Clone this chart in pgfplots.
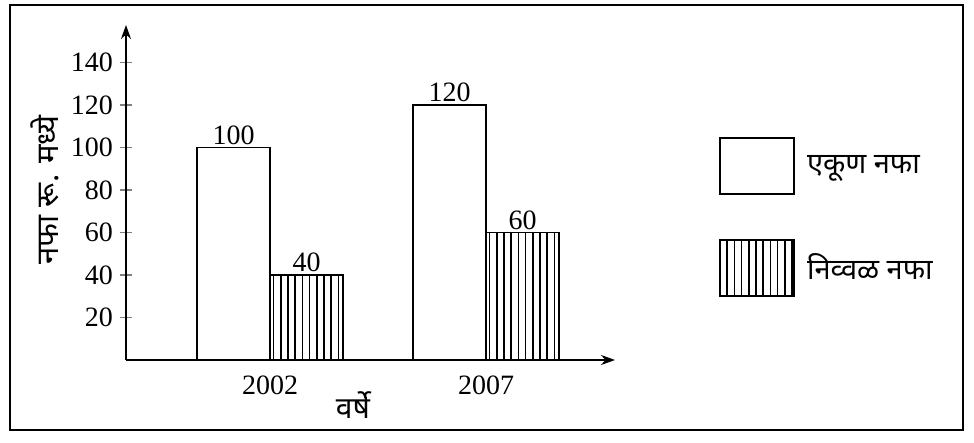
\documentclass[border=0pt]{standalone}
\usepackage{fontspec}
\setmainfont{Liberation Serif}
\newfontfamily\dev[Script=Devanagari]{Noto Sans}
\usepackage{pgfplots}
\pgfplotsset{compat=1.18}
\usetikzlibrary{patterns.meta,arrows.meta}
\begin{document}
\begin{tikzpicture}[x=1pt,y=1pt]
\useasboundingbox (-63,-41.5) rectangle (424,180);
\draw[line width=0.8pt] (-58,-35) rectangle (418.5,177.5);
\begin{axis}[
  at={(0,0)}, anchor=south west,
  scale only axis, width=244.5pt, height=167.5pt,
  xmin=-0.667, xmax=1.597, ymin=0, ymax=157.6,
  axis lines=left,
  axis line style={line width=0.8pt, -{Stealth[length=7pt,width=5pt]}},
  ytick={20,40,...,140},
  xtick={0,1}, xticklabels={2002,2007},
  tick align=center, major tick length=6pt,
  ytick style={line width=0.8pt},
  xtick style={draw=none},
  /pgf/number format/assume math mode=true,
  tick label style={font=\fontsize{14}{16}\selectfont},
  xticklabel style={yshift=1.5pt},
  ybar, bar width=0.338, bar shift=0pt,
  nodes near coords,
  every node near coord/.append style={font=\fontsize{14}{16}\selectfont, inner sep=1pt},
  ylabel={\dev नफा रू. मध्ये},
  ylabel style={at={(axis description cs:-0.1656,0.5075)}, anchor=center, font=\fontsize{15.5}{17}\selectfont},
  xlabel={\dev वर्षे},
  xlabel style={at={(axis description cs:0.4642,-0.1343)}, anchor=center, font=\fontsize{15}{17}\selectfont},
  legend style={at={(axis description cs:1.2127,0.6657)}, anchor=north west, draw=none, fill=none, inner sep=0pt,
    row sep=22pt, font=\dev\fontsize{14.5}{16}\selectfont, cells={anchor=west},
    nodes={inner sep=6pt}},
]
\addplot[draw=black, fill=white, line width=0.8pt,
  legend image code/.code={\draw[black, fill=white, line width=0.8pt] (0pt,-14pt) rectangle (37pt,14pt);}]
  coordinates {(-0.169,100) (0.831,120)};
\addlegendentry{एकूण नफा}
\addplot[draw=black, line width=0.8pt, pattern={Lines[angle=90, distance=3.6pt, line width=0.8pt]},
  legend image code/.code={\draw[black, line width=0.8pt, pattern={Lines[angle=90, distance=3.6pt, line width=0.8pt]}] (0pt,-14pt) rectangle (37pt,14pt);}]
  coordinates {(0.169,40) (1.169,60)};
\addlegendentry{निव्वळ नफा}
\end{axis}
\end{tikzpicture}
\end{document}
